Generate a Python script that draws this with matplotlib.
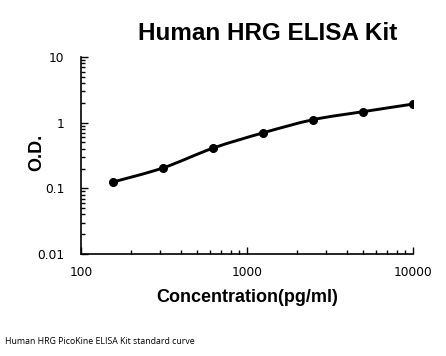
import numpy as np
import matplotlib
matplotlib.use('Agg')
import matplotlib.pyplot as plt
from matplotlib.path import Path
from matplotlib.patches import PathPatch
from matplotlib.ticker import LogLocator, NullFormatter, FixedLocator

# standard curve data
conc = [156.25, 312.5, 625, 1250, 2500, 5000, 10000]
od = [0.125, 0.205, 0.41, 0.70, 1.11, 1.47, 1.92]
x_ticks = [100, 1000, 10000]
x_tick_labels = ['100', '1000', '10000']
y_ticks = [0.01, 0.1, 1, 10]
y_tick_labels = ['0.01', '0.1', '1', '10']

fig = plt.figure(figsize=(4.46, 3.56), dpi=100)
ax = fig.add_axes([81/446, 1 - 254/356, (413-81)/446, (254-57)/356])
ax.set_xscale('log')
ax.set_yscale('log')
ax.set_xlim(100, 10000)
ax.set_ylim(0.01, 10)

# smoothed line (catmull-rom -> bezier in log space, like excel smoothing)
lx = np.log10(conc)
ly = np.log10(od)
n = len(lx)
verts = [(conc[0], od[0])]
codes = [Path.MOVETO]
for i in range(n - 1):
    p0 = (lx[max(i-1, 0)], ly[max(i-1, 0)])
    p1 = (lx[i], ly[i])
    p2 = (lx[i+1], ly[i+1])
    p3 = (lx[min(i+2, n-1)], ly[min(i+2, n-1)])
    c1 = (p1[0] + (p2[0]-p0[0])/6, p1[1] + (p2[1]-p0[1])/6)
    c2 = (p2[0] - (p3[0]-p1[0])/6, p2[1] - (p3[1]-p1[1])/6)
    for c in (c1, c2, p2):
        verts.append((10**c[0], 10**c[1]))
        codes.append(Path.CURVE4)
ax.add_patch(PathPatch(Path(verts, codes), fc='none', ec='black', lw=2.1))
ax.plot(conc, od, 'o', color='black', ms=5.5)

for s in ['top', 'right']:
    ax.spines[s].set_visible(False)
ax.spines['left'].set_linewidth(1.2)
ax.spines['bottom'].set_linewidth(1.2)

ax.xaxis.set_major_locator(FixedLocator(x_ticks))
ax.set_xticklabels(x_tick_labels)
ax.yaxis.set_major_locator(FixedLocator(y_ticks))
ax.set_yticklabels(y_tick_labels)
ax.xaxis.set_minor_locator(LogLocator(base=10, subs=np.arange(2, 10)))
ax.yaxis.set_minor_locator(LogLocator(base=10, subs=np.arange(2, 10)))
ax.xaxis.set_minor_formatter(NullFormatter())
ax.yaxis.set_minor_formatter(NullFormatter())
ax.tick_params(which='both', direction='in', width=1, labelsize=8.8, color='black')
ax.tick_params(which='major', length=5)
ax.tick_params(which='minor', length=3)
ax.tick_params(axis='x', pad=9)
ax.tick_params(axis='y', pad=12)

fig.text(268/446, 1 - 33/356, 'Human HRG ELISA Kit', ha='center', va='center',
         fontsize=17.5, fontweight='bold', family='Liberation Sans')
fig.text(247/446, 1 - 298/356, 'Concentration(pg/ml)', ha='center', va='center',
         fontsize=13, fontweight='bold', family='Liberation Sans')
fig.text(37/446, 1 - 152/356, 'O.D.', ha='center', va='center', rotation=90,
         fontsize=13, fontweight='bold', family='Liberation Sans')
fig.text(5/446, 1 - 342/356, 'Human HRG PicoKine ELISA Kit standard curve',
         ha='left', va='center', fontsize=6.3, family='Open Sans')

fig.savefig('out.png', dpi=100)
